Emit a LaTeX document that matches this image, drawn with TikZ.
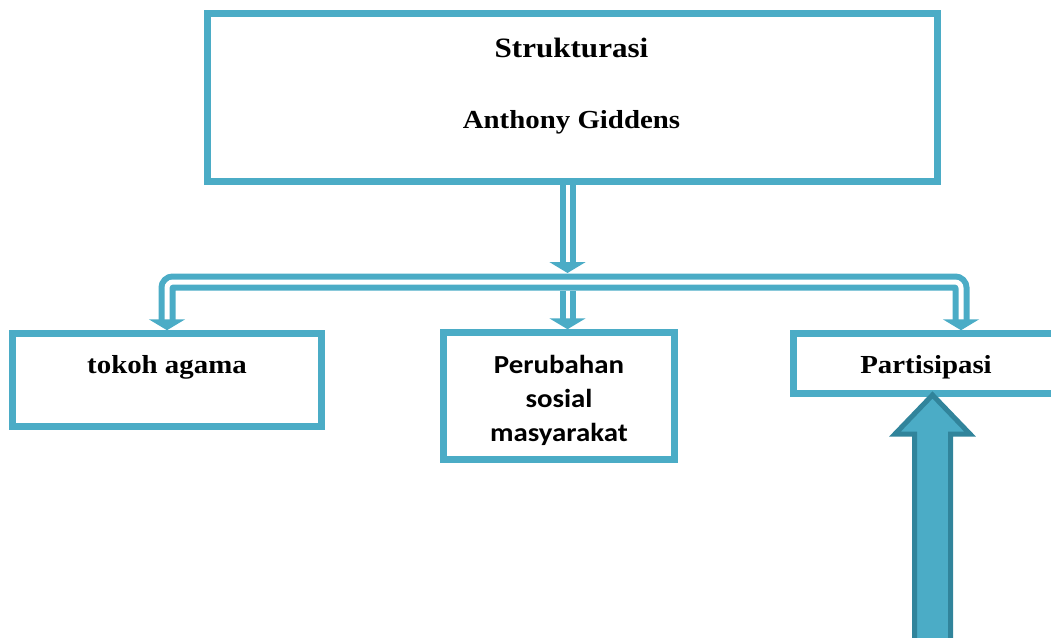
\documentclass[tikz,border=0pt]{standalone}
\usepackage{fontspec}
\setmainfont{Liberation Serif}[FakeStretch=1.11]
\newfontfamily\calibri{Carlito}[FakeStretch=1.11]
\usetikzlibrary{arrows.meta,calc,positioning}
\definecolor{BoxC}{HTML}{4BACC6}
\definecolor{BoxD}{HTML}{31849B}
\tikzset{%
  box/.style={rectangle, draw=BoxC, line width=6.5pt, inner sep=0pt},
  lbl/.style={font=\fontsize{26}{34}\selectfont\bfseries, align=center, inner sep=0pt},
  tip/.style={-{Triangle[width=36pt,length=11pt]}},
  link/.style={draw=BoxC, line width=6pt, double=white, double distance=4pt, tip},
  bar/.style={draw=BoxC, line width=6pt, double=white, double distance=5pt, rounded corners=6pt},
  fat arrow/.style={fill=BoxC, draw=BoxD, line width=5pt, line join=miter}
}

\begin{document}
\begin{tikzpicture}[x=1pt, y=-1pt]
 \path[use as bounding box, clip] (0,0) rectangle (1051,637);

 % boxes
 \node[box, minimum width=730pt, minimum height=168pt] (top) at (572.5,97.5) {};
 \node[lbl, font=\fontsize{28}{34}\selectfont\bfseries, anchor=base] (str) at (571.5,57) {Strukturasi};
 \node[lbl, anchor=base] (gid) at (571.5,128) {Anthony Giddens};

 \node[box, minimum width=309pt, minimum height=93pt] (tok) at (167,380) {};
 \node[lbl, anchor=base] (tokl) at (167,373) {tokoh agama};

 \node[box, minimum width=231pt, minimum height=127pt] (per) at (559,396) {};
 \node[lbl, font=\fontsize{26}{34}\selectfont\calibri\bfseries] (perl) at (559,400.5) {Perubahan\\sosial\\masyarakat};

 \node[box, minimum width=280pt, minimum height=60pt] (par) at (933.5,363.5) {};
 \node[lbl, anchor=base] (parl) at (926,373) {Partisipasi};

 % double connectors
 \coordinate (hub) at (567.5,282);
 \coordinate (rleg) at (961,282);
 \draw[link] (top.south -| hub) -- ([yshift=9pt]hub);
 \draw[bar, {Triangle[width=36pt,length=11pt]}-{Triangle[width=36pt,length=11pt]}]
   (tok.north) |- (hub) -| (rleg |- par.north);
 \draw[link] ([yshift=-9pt]hub) -- (per.north -| hub);

 % big arrow
 \coordinate (src) at (932.5,660);
 \draw[fat arrow] (src) -- ++(-18,0) -- (914.5,434) -- (895,434) -- (932.5,395)
   -- (970,434) -- (950.5,434) -- (950.5,660) -- cycle;

\end{tikzpicture}
\end{document}
